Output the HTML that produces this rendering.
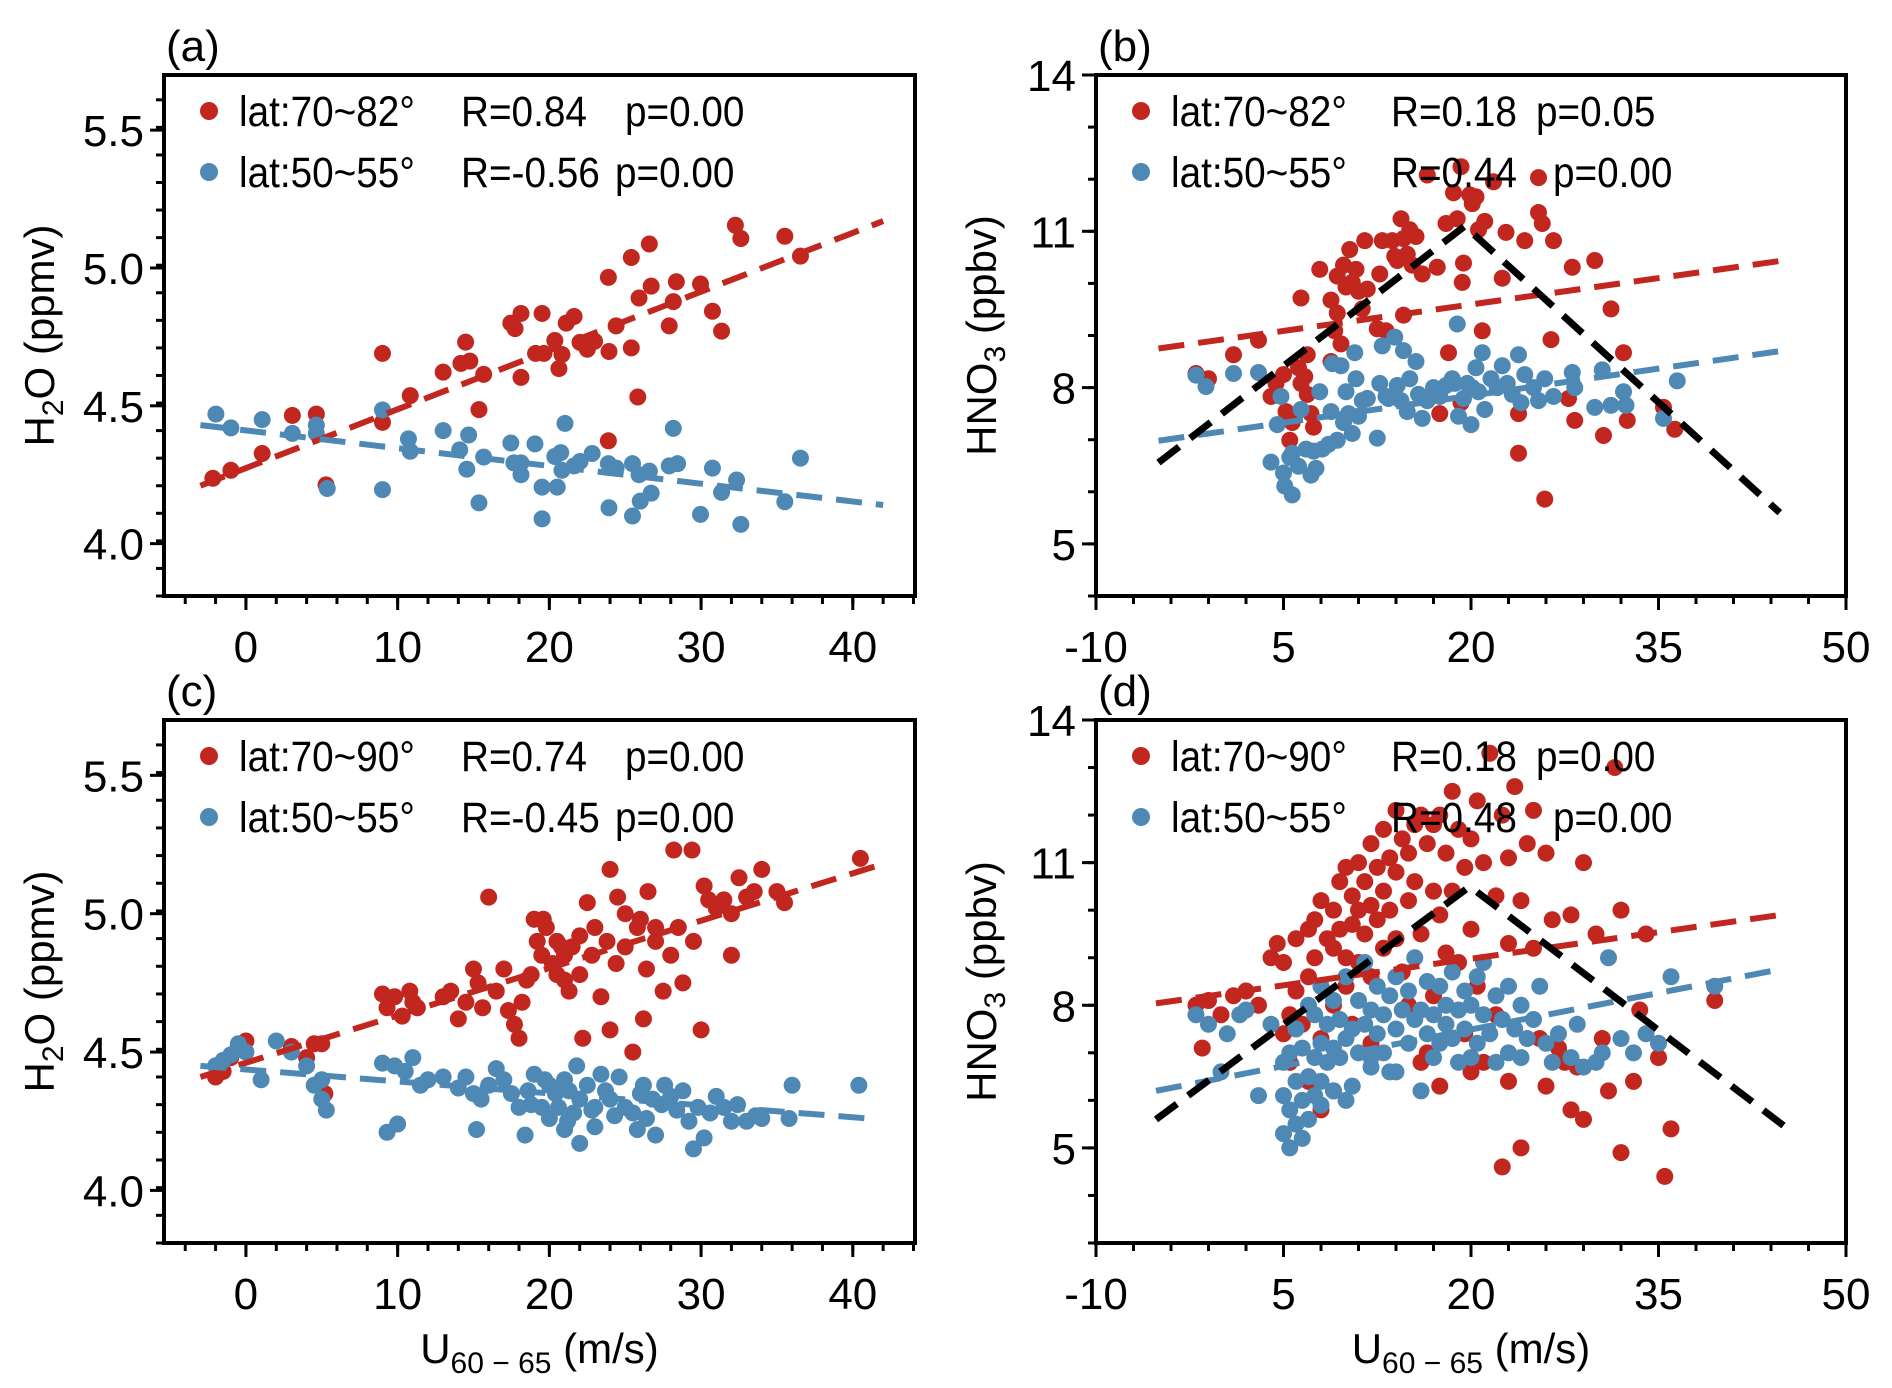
<!DOCTYPE html>
<html><head><meta charset="utf-8">
<style>
html,body{margin:0;padding:0;background:#fff;}
svg{display:block;font-family:"Liberation Sans",Arial,sans-serif;}
</style></head>
<body>
<svg id="fig" width="1892" height="1388" viewBox="0 0 1892 1388" xmlns="http://www.w3.org/2000/svg"></svg>
<script>
// ---------- data ----------
const aRedX=[-2.18,-0.99,1.07,3.06,4.64,5.28,9.0,9.0,10.83,13.0,14.17,14.48,14.76,15.36,15.67,17.46,17.74,18.13,18.13,19.09,19.52,19.64,20.36,20.63,20.83,21.11,21.63,22.02,22.5,22.98,23.89,23.93,23.89,24.4,25.4,25.4,25.83,25.91,26.59,26.71,27.9,28.17,28.37,29.96,30.75,31.35,32.26,32.62,35.52,36.55];
const aRedY=[4.237,4.266,4.327,4.465,4.47,4.213,4.69,4.44,4.537,4.622,4.654,4.731,4.662,4.486,4.614,4.80,4.78,4.835,4.603,4.69,4.835,4.69,4.737,4.635,4.686,4.80,4.824,4.73,4.705,4.734,4.966,4.697,4.373,4.79,5.038,4.71,4.532,4.891,5.087,4.934,4.79,4.878,4.95,4.942,4.843,4.771,5.155,5.107,5.115,5.043];
const aBlueX=[-1.98,-0.99,1.07,3.06,4.64,4.64,5.36,9.0,9.0,10.71,10.83,13.0,14.09,14.68,14.56,15.36,15.67,17.46,17.66,18.13,18.13,19.05,19.52,19.52,20.36,20.52,20.75,21.03,20.83,21.63,22.02,22.82,23.89,23.93,24.4,25.48,25.48,25.91,25.99,26.59,26.71,27.9,28.17,28.45,29.96,30.75,31.35,32.34,32.62,35.52,36.55];
const aBlueY=[4.47,4.42,4.45,4.40,4.43,4.40,4.20,4.485,4.196,4.38,4.335,4.41,4.34,4.394,4.27,4.148,4.314,4.365,4.293,4.25,4.293,4.362,4.205,4.09,4.316,4.205,4.33,4.436,4.266,4.282,4.298,4.327,4.29,4.13,4.274,4.29,4.10,4.25,4.154,4.263,4.183,4.282,4.418,4.29,4.106,4.274,4.186,4.231,4.07,4.152,4.31];
const aFitRed=[-3,4.21,42,5.17];
const aFitBlue=[-3,4.43,42,4.14];

const bRedX=[-2.0,-1.0,1.0,3.0,4.0,4.4,5.0,5.2,5.5,5.7,6.2,6.4,6.7,6.9,7.2,7.4,7.9,6.4,8.8,9.1,9.3,9.3,9.6,9.8,10.0,10.3,10.5,10.8,11.0,11.3,11.5,11.7,12.5,12.7,12.9,13.2,13.7,13.9,14.1,14.4,14.6,14.6,14.9,15.1,15.3,15.6,16.1,16.5,17.3,18.0,18.2,18.6,18.9,19.2,19.3,19.4,19.9,20.1,20.4,20.6,20.9,21.1,21.8,22.5,22.8,23.8,23.8,24.3,25.4,25.4,25.7,25.9,26.4,26.6,27.8,28.1,28.3,29.9,30.6,31.2,32.2,32.5,35.4,36.3,17.5,19.2,8.8,11.7,6.9];
const bRedY=[8.27,8.17,8.63,8.91,7.83,8.08,8.25,7.54,6.99,7.33,8.38,8.08,8.21,7.87,7.50,7.24,10.27,9.72,9.68,9.09,9.43,10.14,8.84,10.35,9.93,10.65,10.02,10.27,9.85,9.51,10.82,9.89,9.13,10.18,10.82,9.09,10.82,10.52,10.44,11.24,10.86,9.39,10.56,11.03,10.35,10.9,10.18,12.08,10.31,11.15,8.67,11.74,11.24,12.24,10.02,10.39,11.70,11.53,11.66,11.03,9.09,11.19,11.95,10.10,10.98,7.50,6.74,10.82,12.03,11.36,11.15,5.86,8.92,10.82,7.79,10.31,7.37,10.44,7.08,9.51,8.67,7.37,7.62,7.20,7.50,7.71,8.50,7.79,8.63];
const bBlueX=[-2.0,-1.2,1.0,3.0,4.0,4.5,4.8,5.0,5.1,5.7,5.5,5.7,6.2,6.4,6.8,7.2,7.4,7.6,7.9,8.1,8.6,8.8,8.9,9.3,9.6,9.8,10.0,10.2,10.5,10.7,10.8,11.0,11.3,11.7,12.5,12.7,12.9,13.2,13.4,13.9,14.1,14.4,14.6,14.9,15.1,15.6,15.8,16.1,16.5,17.0,17.5,18.0,18.5,18.7,18.9,19.0,19.4,19.7,20.0,20.1,20.4,20.6,20.9,21.1,21.6,22.1,22.5,22.9,23.3,23.8,24.0,24.3,25.0,25.4,25.9,26.6,28.1,28.3,29.9,30.5,31.2,32.2,32.4,35.4,36.5];
const bBlueY=[8.24,8.02,8.27,8.29,6.57,7.29,7.83,6.36,6.11,5.94,6.66,6.74,6.49,7.58,6.82,6.32,6.78,6.45,7.92,6.82,6.91,7.54,8.46,6.99,8.42,7.33,7.92,7.50,7.12,8.67,8.17,7.45,7.75,7.79,7.03,8.08,8.80,7.83,7.79,8.97,8.04,7.75,8.71,7.54,8.17,8.50,7.87,7.41,7.75,8.0,7.83,8.04,8.17,8.08,9.22,7.45,7.79,8.08,7.29,8.0,8.38,7.92,8.67,7.58,8.17,8.0,8.42,8.08,7.87,8.63,7.71,8.25,8.0,7.75,8.17,7.83,8.29,8.0,7.62,8.34,7.66,7.92,7.66,7.41,8.13];
const bFitRed=[-5,8.75,44.7,10.43];
const bFitBlue=[-5,6.98,44.7,8.70];
const bBreakX=[-5,19.5,44.7];
const bBreakY=[6.56,11.1,5.6];

const cRedX=[-2,-1.5,-1,-0.5,0,3,4,4.5,5,4.7,5.2,9,9.3,9.8,10.3,10.8,11,11.3,13,13.5,14,14.5,15,15.3,15.6,16,16.5,17,17.3,17.7,18,18.2,18.8,19.2,19.5,19.8,19.6,20.2,20.5,21,20.5,21,21.3,21.5,22,22,22.5,22.8,23.4,23.8,24,24.4,25,25,25.8,26.2,26.4,26.5,27,27,27.5,28,28.2,28.5,28.8,29.4,29.5,30,30.5,31,31.5,32,32,32.5,33,33.5,34,35,35.5,40.5,20.8,19,18.5,23,24.5,26,22.2,25.5,24,30.2];
const cRedY=[4.41,4.43,4.48,4.52,4.54,4.52,4.48,4.53,4.53,4.38,4.35,4.71,4.66,4.7,4.63,4.72,4.68,4.66,4.7,4.72,4.62,4.68,4.8,4.75,4.66,5.06,4.72,4.8,4.65,4.6,4.55,4.68,4.78,4.9,4.85,4.95,4.98,4.82,4.9,4.85,4.78,4.76,4.72,4.88,4.92,4.78,5.04,4.85,4.7,4.9,5.16,4.82,4.88,5.0,4.95,4.62,4.8,5.08,4.95,4.9,4.72,4.85,5.23,4.95,4.75,5.23,4.9,4.58,5.05,5.02,5.05,5.0,4.85,5.13,5.06,5.08,5.16,5.08,5.04,5.2,4.88,4.98,4.76,4.95,5.06,4.98,4.55,4.5,4.58,5.1];
const cBlueX=[-2,-1.5,-1,-0.5,0,1,2,3,4,4.5,5,5,5.3,9,9.3,9.8,10,10.5,11,11.5,12,13,14,14.5,15,15.2,15.5,16,16.5,17,17.5,18,18.4,18.6,19,19.5,20,20,20.4,20.6,21,21,21.3,21.6,22,22,22.5,23,23,23.4,24,24.3,24.6,25,25.5,26,26.4,26.8,27,27.4,28,28.4,28.8,29.5,29.8,30.2,30.6,31,31.5,32,32.4,33,34,36,40.4,19.7,21.8,23.7,27.6,18.8,21.2,22.8,25.8,26.2,29.2,33.6,35.8];
const cBlueY=[4.45,4.47,4.49,4.53,4.5,4.4,4.54,4.5,4.45,4.38,4.33,4.4,4.29,4.46,4.21,4.45,4.24,4.43,4.48,4.38,4.4,4.41,4.37,4.41,4.35,4.22,4.33,4.38,4.44,4.4,4.35,4.3,4.2,4.36,4.42,4.3,4.38,4.26,4.35,4.3,4.22,4.4,4.36,4.28,4.17,4.33,4.38,4.3,4.23,4.42,4.33,4.27,4.41,4.3,4.28,4.35,4.26,4.33,4.2,4.31,4.34,4.29,4.36,4.15,4.3,4.19,4.28,4.34,4.3,4.25,4.31,4.25,4.26,4.38,4.38,4.4,4.45,4.36,4.38,4.31,4.25,4.29,4.22,4.38,4.25,4.27,4.26];
const cFitRed=[-3,4.41,42,5.18];
const cFitBlue=[-3,4.45,41,4.26];

const dRedX=[-2,-1,-1.5,0,1,2,3,4,4.5,5,5,5.5,5.5,6,6,6.5,7,7,7,7.5,7.5,8,8,8,8.5,9,9,9,9.5,9.5,10,10,10,10.5,10.5,11,11,11,11.5,11.5,12,12,12,12.5,12.5,13,13,13,13.5,13.5,14,14,14,14.5,14.5,15,15,15,15.5,15.5,16,16,16,16.5,16.5,17,17,17,17.5,17.5,17.5,18,18,18.5,18.5,19,19,19.5,19.5,20,20,20,20.5,20.5,21,21,21.5,22,22,22.5,22.5,23,23,23,23.5,24,24,24.5,25,25,25.5,26,26,26.5,27,27.5,28,28,28.5,29,29,30,30.5,31,31.5,32,32,33,33.5,34,35,35.5,36,39.5,10.5,9,12,8];
const dRedY=[8.0,8.1,7.1,7.8,8.2,8.3,8.0,9.0,9.3,8.9,7.4,6.8,7.8,9.4,8.3,7.6,9.6,8.6,6.4,9.8,9.0,10.2,8.4,7.3,9.4,10.0,9.2,8.0,10.6,9.6,10.9,9.0,8.4,10.3,9.7,11.0,10.0,8.9,10.6,9.5,11.4,10.1,8.6,10.9,9.8,11.7,10.4,9.2,11.1,10.0,12.1,10.8,9.4,11.5,8.7,11.2,10.2,8.0,11.8,10.6,12.0,9.5,6.8,11.4,7.0,11.8,10.4,8.2,12.0,9.9,6.3,11.2,9.1,12.5,10.4,11.7,8.9,10.9,7.4,11.5,9.6,6.6,12.3,8.4,11.0,6.8,13.3,10.3,7.8,12.0,4.6,11.1,9.3,6.4,12.6,10.2,5.0,11.4,12.1,9.2,7.3,11.2,6.3,9.8,7.1,6.8,9.9,5.8,6.7,11.0,5.6,9.5,7.3,6.2,13.0,4.9,10.0,6.4,7.9,9.5,6.9,4.4,5.4,8.1,7.6,6.2,7.2,5.8];
const dBlueX=[-2,-1,0,0.5,1.5,2,3,4,5,5,5,5.5,5.5,5.5,6,6,6,6.5,6.5,6.5,7,7,7,7.5,7.5,7.5,8,8,8,8.5,8.5,9,9,9,9.5,9.5,10,10,10.5,10.5,11,11,11.5,11.5,12,12,12.5,12.5,13,13,13.5,13.5,14,14,14.5,15,15,15.5,15.5,16,16,16.5,16.5,17,17,17.5,17.5,18,18,18.5,18.5,19,19,19.5,19.5,20,20,20.5,20.5,21,21,21.5,22,22,22.5,23,23,23.5,24,24,24.5,25,25.5,26,26.5,27,28,28.5,29,30,30.5,31,32,33,34,35,36,39.5,8,10,12,14];
const dBlueY=[7.8,7.6,6.6,7.4,7.8,7.9,6.1,7.6,5.3,6.1,6.8,5.0,5.8,7.0,5.5,6.4,7.5,5.2,6.0,7.1,5.6,6.5,8.0,6.1,6.9,7.8,6.4,7.2,8.4,6.8,7.6,6.2,7.1,8.1,6.9,7.7,7.3,8.6,6.3,7.5,7.0,8.1,7.6,8.9,6.9,7.9,7.4,8.4,7.0,7.8,8.2,6.6,7.5,8.6,7.9,7.2,8.3,7.7,9.0,6.2,7.9,7.4,8.5,7.8,6.9,8.4,7.2,8.0,7.6,8.7,7.3,7.9,6.8,8.3,7.5,8.0,6.9,8.6,7.2,7.8,8.9,7.4,8.2,6.8,7.7,8.4,7.0,7.5,8.0,6.9,7.3,7.7,8.4,7.2,6.8,7.4,6.9,7.6,6.7,6.8,7.0,9.0,7.3,7.0,7.4,7.2,8.6,8.4,5.9,6.0,6.7,6.6];
const dFitRed=[-5.2,8.04,45,9.91];
const dFitBlue=[-5.2,6.2,45,8.77];
const dBreakX=[-5.2,19.9,45];
const dBreakY=[5.6,10.5,5.47];

const h2oTicks=["4.0","4.5","5.0","5.5"];
const hno3Ticks=["5","8","11","14"];
const uTicksA=["0","10","20","30","40"];
const uTicksB=["-10","5","20","35","50"];
const legA=[["lat:70~82°","R=0.84","p=0.00"],["lat:50~55°","R=-0.56","p=0.00"]];
const legB=[["lat:70~82°","R=0.18","p=0.05"],["lat:50~55°","R=0.44","p=0.00"]];
const legC=[["lat:70~90°","R=0.74","p=0.00"],["lat:50~55°","R=-0.45","p=0.00"]];
const legD=[["lat:70~90°","R=0.18","p=0.00"],["lat:50~55°","R=0.48","p=0.00"]];

// ---------- drawing ----------
const NS="http://www.w3.org/2000/svg";
const svg=document.getElementById('fig');
const RED="#c1261f", BLUE="#4e88b4";
function mk(tag,attrs,parent){const e=document.createElementNS(NS,tag);for(const k in attrs)e.setAttribute(k,attrs[k]);(parent||svg).appendChild(e);return e;}
function squeeze(t,f){try{const w=t.getComputedTextLength();if(w>0){t.setAttribute('textLength',(w*f).toFixed(1));t.setAttribute('lengthAdjust','spacingAndGlyphs');}}catch(e){}}

function panel(cfg){
  const g=mk('g',{});
  
  
  const sx=v=>cfg.L+(v-cfg.x0)/(cfg.x1-cfg.x0)*(cfg.R-cfg.L);
  const sy=v=>cfg.B-(v-cfg.y0)/(cfg.y1-cfg.y0)*(cfg.B-cfg.T);
  function scatter(X,Y,col,nm){
    const sg=mk('g',{fill:col},g);
    
    
    for(let i=0;i<X.length;i++){
      const c=mk('circle',{cx:sx(X[i]),cy:sy(Y[i]),r:8.5},sg);
      
      
    }
  }
  scatter(cfg.rx,cfg.ry,RED,'red-points');
  scatter(cfg.bx,cfg.by,BLUE,'blue-points');
  function fit(f,col,nm){
    const l=mk('line',{x1:sx(f[0]),y1:sy(f[1]),x2:sx(f[2]),y2:sy(f[3]),stroke:col,'stroke-width':6,'stroke-dasharray':'26 14'},g);
    
    
  }
  fit(cfg.fr,RED,'red-fit-line');
  fit(cfg.fb,BLUE,'blue-fit-line');
  if(cfg.kx){
    const pts=cfg.kx.map((v,i)=>sx(v)+','+sy(cfg.ky[i])).join(' ');
    const p=mk('polyline',{points:pts,fill:'none',stroke:'#000','stroke-width':7,'stroke-dasharray':'26 14'},g);
    
    
  }
  const fr=mk('rect',{x:cfg.L,y:cfg.T,width:cfg.R-cfg.L,height:cfg.B-cfg.T,fill:'none',stroke:'#000','stroke-width':4},g);
  
  
  const tg=mk('g',{stroke:'#000','stroke-width':3},g);
  for(let v=cfg.xm0;v<=cfg.x1+1e-9;v+=cfg.xmin){ if(v<cfg.x0-1e-9)continue; mk('line',{x1:sx(v),x2:sx(v),y1:cfg.B,y2:cfg.B+8},tg);}
  cfg.xt.forEach(s=>{const v=parseFloat(s);mk('line',{x1:sx(v),x2:sx(v),y1:cfg.B,y2:cfg.B+14},tg);
    const t=mk('text',{x:sx(v),y:cfg.B+66,'font-size':44,'text-anchor':'middle'},g);t.textContent=s;
    });
  for(let v=cfg.y0;v<=cfg.y1+1e-9;v+=cfg.ymin){ mk('line',{x1:cfg.L,x2:cfg.L-8,y1:sy(v),y2:sy(v)},tg);}
  cfg.yt.forEach(s=>{const v=parseFloat(s);mk('line',{x1:cfg.L,x2:cfg.L-14,y1:sy(v),y2:sy(v)},tg);
    const t=mk('text',{x:cfg.L-20,y:sy(v)+16,'font-size':44,'text-anchor':'end'},g);t.textContent=s;
    });
  const pl=mk('text',{x:cfg.L+2,y:cfg.T-14,'font-size':44},g);pl.textContent=cfg.letter;
  
  const yl=mk('text',{x:0,y:0,'font-size':42,'text-anchor':'middle',transform:`translate(${cfg.ylx},${(cfg.T+cfg.B)/2}) rotate(-90)`},g);
  yl.innerHTML=cfg.ylab;
  
  if(cfg.xlab){
    const xl=mk('text',{x:(cfg.L+cfg.R)/2,y:cfg.B+120,'font-size':42,'text-anchor':'middle'},g);
    xl.innerHTML='U<tspan font-size="30" dy="10">60 − 65</tspan><tspan dy="-10"> (m/s)</tspan>';
    
  }
  const lg=mk('g',{},g);
  
  cfg.leg.forEach((row,i)=>{
    const y=cfg.T+36+i*61;
    const d=mk('circle',{cx:cfg.L+45,cy:y,r:9,fill:i?BLUE:RED},lg);
    
    const xs=[cfg.L+75,cfg.L+cfg.lr,cfg.L+(i?cfg.lp2:cfg.lp1)];
    row.forEach((s,j)=>{const t=mk('text',{x:xs[j],y:y+15,'font-size':43},lg);t.textContent=s;
      
      squeeze(t,0.9);});
  });
}

const h2oLab='H<tspan font-size="30" dy="9">2</tspan><tspan dy="-9">O (ppmv)</tspan>';
const hnoLab='HNO<tspan font-size="30" dy="9">3</tspan><tspan dy="-9"> (ppbv)</tspan>';
const AX={x0:-5.4,x1:44.1,xm0:-4,xmin:2,y0:3.81,y1:5.70,ymin:0.1};
const BX={x0:-10,x1:50,xm0:-10,xmin:3,ymin:1};

panel(Object.assign({name:'panel-a',L:164,R:915,T:75,B:596,rx:aRedX,ry:aRedY,bx:aBlueX,by:aBlueY,fr:aFitRed,fb:aFitBlue,
  xt:uTicksA,yt:h2oTicks,letter:'(a)',ylab:h2oLab,ylx:54,leg:legA,lr:297,lp1:461,lp2:451},AX,{y0:3.81}));
panel(Object.assign({name:'panel-b',L:1096,R:1846,T:75,B:596,rx:bRedX,ry:bRedY,bx:bBlueX,by:bBlueY,fr:bFitRed,fb:bFitBlue,kx:bBreakX,ky:bBreakY,
  xt:uTicksB,yt:hno3Ticks,letter:'(b)',ylab:hnoLab,ylx:996,leg:legB,lr:295,lp1:440,lp2:457,y0:4,y1:14},BX));
panel(Object.assign({name:'panel-c',L:164,R:915,T:720,B:1243,rx:cRedX,ry:cRedY,bx:cBlueX,by:cBlueY,fr:cFitRed,fb:cFitBlue,
  xt:uTicksA,yt:h2oTicks,letter:'(c)',ylab:h2oLab,ylx:54,xlab:true,leg:legC,lr:297,lp1:461,lp2:451},AX));
panel(Object.assign({name:'panel-d',L:1096,R:1846,T:720,B:1243,rx:dRedX,ry:dRedY,bx:dBlueX,by:dBlueY,fr:dFitRed,fb:dFitBlue,kx:dBreakX,ky:dBreakY,
  xt:uTicksB,yt:hno3Ticks,letter:'(d)',ylab:hnoLab,ylx:996,xlab:true,leg:legD,lr:295,lp1:440,lp2:457,y0:3,y1:14},BX));
</script>
</body></html>
